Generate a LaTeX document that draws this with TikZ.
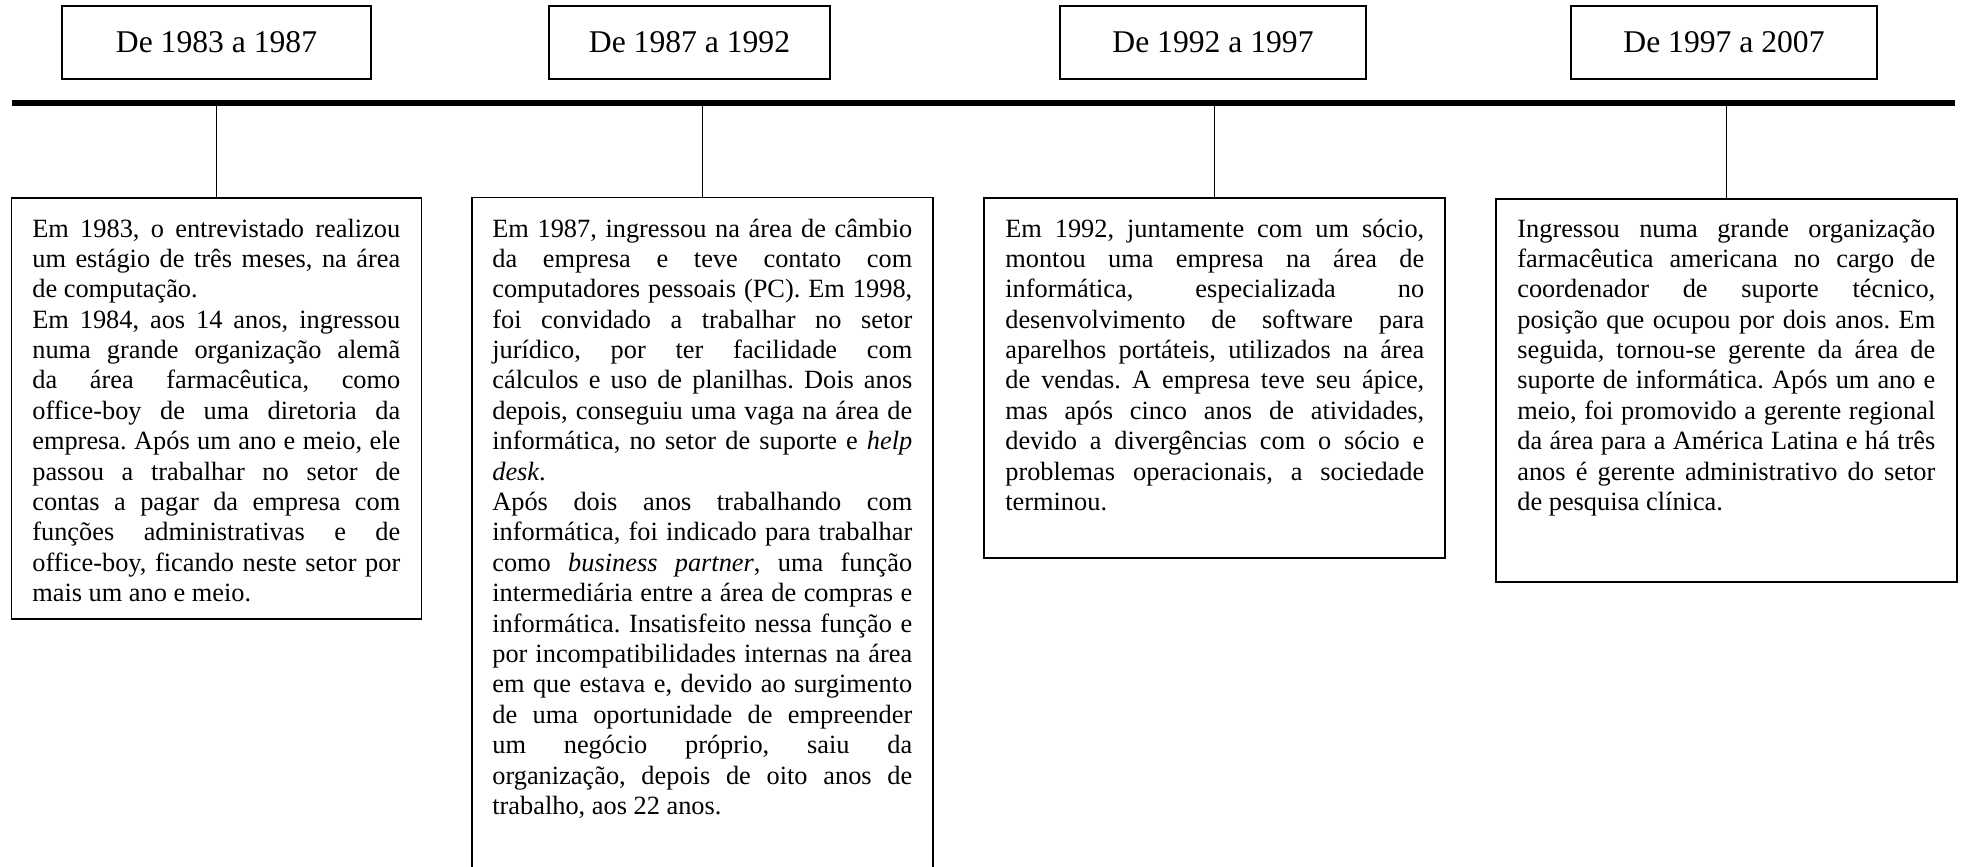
\documentclass[tikz,border=0pt]{standalone}
\usepackage{fontspec}
\setmainfont{Liberation Serif}
\frenchspacing
\newcommand{\corpo}{\fontsize{15}{17.3}\selectfont\tolerance=9999\hyphenpenalty=10000}

\begin{document}
\begin{tikzpicture}[x=0.02cm, y=-0.02cm,
		ano/.style={draw, line width=0.8pt, inner sep=0pt, minimum height=1.46cm, font=\fontsize{18}{21}\selectfont},
		caixa/.style={draw, line width=0.8pt, inner sep=0pt},
		texto/.style={anchor=base west, inner sep=0pt, align=justify, font=\corpo}]
		\useasboundingbox (0,0) rectangle (1961,866);
		% pontos da linha do tempo
		\coordinate (ini) at (12,103);
		\coordinate (fim) at (1955,103);
		% periodos
		\node (ano1) [ano, minimum width=6.18cm] at (216.5,42.5) {De 1983 a 1987};
		\node (ano2) [ano, minimum width=5.62cm] at (689.5,42.5) {De 1987 a 1992};
		\node (ano3) [ano, minimum width=6.12cm] at (1213,42.5) {De 1992 a 1997};
		\node (ano4) [ano, minimum width=6.12cm] at (1724,42.5) {De 1997 a 2007};
		% caixas
		\node (caixa1) [caixa, minimum width=8.2cm, minimum height=8.42cm] at (216.5,408.5) {};
		\node (caixa2) [caixa, minimum width=9.22cm, minimum height=13.65cm] at (702.5,538.75) {};
		\node (caixa3) [caixa, minimum width=9.22cm, minimum height=7.2cm] at (1214.5,378) {};
		\node (caixa4) [caixa, minimum width=9.22cm, minimum height=7.66cm] at (1726.5,390.5) {};
		% textos
		\node (texto1) [texto, text width=7.36cm] at (32,237) {Em 1983, o entrevistado realizou\linebreak
			um estágio de três meses, na área\linebreak
			de computação.\par
			Em 1984, aos 14 anos, ingressou\linebreak
			numa grande organização alemã\linebreak
			da área farmacêutica, como\linebreak
			office-boy de uma diretoria da\linebreak
			empresa. Após um ano e meio, ele\linebreak
			passou a trabalhar no setor de\linebreak
			contas a pagar da empresa com\linebreak
			funções administrativas e de\linebreak
			office-boy, ficando neste setor por\linebreak
			mais um ano e meio.};
		\node (texto2) [texto, text width=8.4cm] at (492,237) {Em 1987, ingressou na área de câmbio\linebreak
			da empresa e teve contato com\linebreak
			computadores pessoais (PC). Em 1998,\linebreak
			foi convidado a trabalhar no setor\linebreak
			jurídico, por ter facilidade com\linebreak
			cálculos e uso de planilhas. Dois anos\linebreak
			depois, conseguiu uma vaga na área de\linebreak
			informática, no setor de suporte e \emph{help}\linebreak
			\emph{desk}.\par
			Após dois anos trabalhando com\linebreak
			informática, foi indicado para trabalhar\linebreak
			como \emph{business partner}, uma função\linebreak
			intermediária entre a área de compras e\linebreak
			informática. Insatisfeito nessa função e\linebreak
			por incompatibilidades internas na área\linebreak
			em que estava e, devido ao surgimento\linebreak
			de uma oportunidade de empreender\linebreak
			um negócio próprio, saiu da\linebreak
			organização, depois de oito anos de\linebreak
			trabalho, aos 22 anos.};
		\node (texto3) [texto, text width=8.38cm] at (1005,237) {Em 1992, juntamente com um sócio,\linebreak
			montou uma empresa na área de\linebreak
			informática, especializada no\linebreak
			desenvolvimento de software para\linebreak
			aparelhos portáteis, utilizados na área\linebreak
			de vendas. A empresa teve seu ápice,\linebreak
			mas após cinco anos de atividades,\linebreak
			devido a divergências com o sócio e\linebreak
			problemas operacionais, a sociedade\linebreak
			terminou.};
		\node (texto4) [texto, text width=8.36cm] at (1517,237) {Ingressou numa grande organização\linebreak
			farmacêutica americana no cargo de\linebreak
			coordenador de suporte técnico,\linebreak
			posição que ocupou por dois anos. Em\linebreak
			seguida, tornou-se gerente da área de\linebreak
			suporte de informática. Após um ano e\linebreak
			meio, foi promovido a gerente regional\linebreak
			da área para a América Latina e há três\linebreak
			anos é gerente administrativo do setor\linebreak
			de pesquisa clínica.};
		% linha do tempo
		\draw [line width=3.4pt] (ini)--(fim);
		\draw [line width=0.6pt] (caixa1.north)--(caixa1.north |- ini);
		\draw [line width=0.6pt] (caixa2.north)--(caixa2.north |- ini);
		\draw [line width=0.6pt] (caixa3.north)--(caixa3.north |- ini);
		\draw [line width=0.6pt] (caixa4.north)--(caixa4.north |- ini);
	\end{tikzpicture}
\end{document}
